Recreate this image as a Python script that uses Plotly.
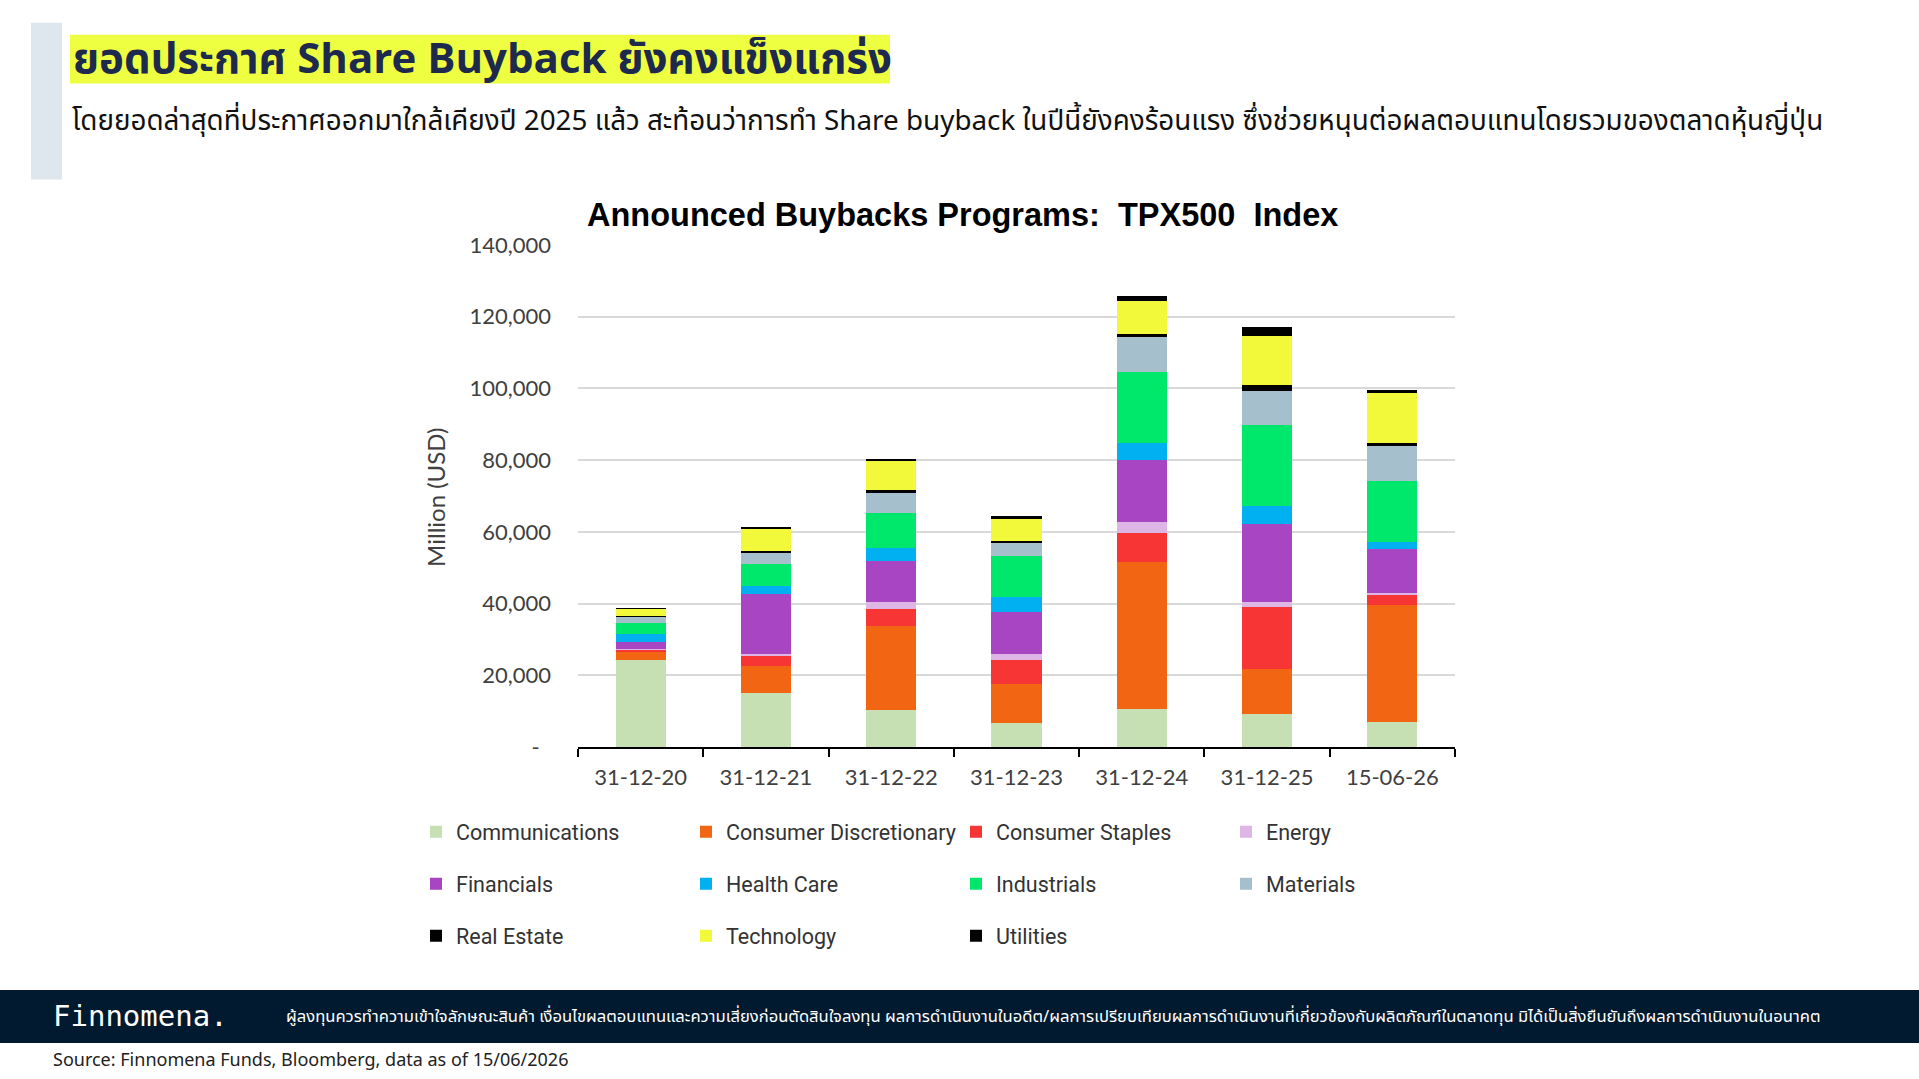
import plotly.graph_objects as go

# ---------------- data ----------------
dates = ["31-12-20", "31-12-21", "31-12-22", "31-12-23", "31-12-24", "31-12-25", "15-06-26"]

communications = [24150, 14970, 10240, 6730, 10630, 9240, 7010]
consumer_disc = [2330, 7700, 23560, 10850, 40980, 12410, 32550]
consumer_staples = [840, 2870, 4730, 6680, 7980, 17520, 2870]
energy = [150, 300, 1860, 1560, 3140, 1220, 570]
financials = [1880, 16860, 11490, 11790, 17250, 21790, 12220]
health_care = [2230, 2230, 3540, 4180, 4730, 5090, 1870]
industrials = [3060, 6030, 9900, 11480, 19750, 22530, 17130]
materials = [1670, 3340, 5400, 3540, 9830, 9570, 9660]
real_estate = [100, 300, 920, 600, 1020, 1670, 930]
technology = [2120, 6270, 8340, 6120, 9180, 13640, 13910]
utilities = [100, 300, 280, 900, 1300, 2590, 940]

sector_names = ["Communications", "Consumer Discretionary", "Consumer Staples", "Energy",
                "Financials", "Health Care", "Industrials", "Materials",
                "Real Estate", "Technology", "Utilities"]
sector_values = [communications, consumer_disc, consumer_staples, energy,
                 financials, health_care, industrials, materials,
                 real_estate, technology, utilities]
sector_colors = ["#c6e0b4", "#f26513", "#f83535", "#ddb6e6",
                 "#a845c2", "#00b0f0", "#00e86b", "#a6bfcc",
                 "#000000", "#f2f83a", "#000000"]

ytick_vals = [0, 20000, 40000, 60000, 80000, 100000, 120000, 140000]
ytick_text = ["-\u00a0\u00a0", "20,000", "40,000", "60,000", "80,000", "100,000", "120,000", "140,000"]

title_text = "ยอดประกาศ Share Buyback ยังคงแข็งแกร่ง"
subtitle_text = ("โดยยอดล่าสุดที่ประกาศออกมาใกล้เคียงปี 2025 แล้ว สะท้อนว่าการทำ Share buyback "
                 "ในปีนี้ยังคงร้อนแรง ซึ่งช่วยหนุนต่อผลตอบแทนโดยรวมของตลาดหุ้นญี่ปุ่น")
chart_title = "Announced Buybacks Programs:  TPX500  Index"
disclaimer = ("ผู้ลงทุนควรทำความเข้าใจลักษณะสินค้า เงื่อนไขผลตอบแทนและความเสี่ยงก่อนตัดสินใจลงทุน "
              "ผลการดำเนินงานในอดีต/ผลการเปรียบเทียบผลการดำเนินงานที่เกี่ยวข้องกับผลิตภัณฑ์ในตลาดทุน "
              "มิได้เป็นสิ่งยืนยันถึงผลการดำเนินงานในอนาคต")
source_text = "Source: Finnomena Funds, Bloomberg, data as of 15/06/2026"

# ---------------- layout geometry ----------------
FW, FH = 1919, 1079
L, R = 578, 1455
T, B = 244.7, 747.5
W, H = R - L, B - T


def fx(px):
    return (px - L) / W


def fy(py):
    return (B - py) / H


THAI = "Noto Sans Thai, Noto Sans Thai Looped, Noto Sans, sans-serif"

fig = go.Figure()
for name, vals, col in zip(sector_names, sector_values, sector_colors):
    fig.add_trace(go.Bar(
        x=dates, y=vals, name=name, legendgroup=name,
        marker=dict(color=col, line=dict(width=0)),
    ))

fig.update_layout(
    width=FW, height=FH,
    barmode="stack", bargap=0.6,
    plot_bgcolor="white", paper_bgcolor="white",
    margin=dict(l=L, r=FW - R, t=T, b=FH - B, autoexpand=False),
    font=dict(family="Lato, sans-serif", color="#404040"),
    showlegend=True,
    legend=dict(
        orientation="h", traceorder="grouped",
        x=fx(1496), xanchor="right", y=fy(812), yanchor="top",
        entrywidth=225, entrywidthmode="pixels", tracegroupgap=21,
        font=dict(family="Roboto, sans-serif", size=21.5, color="#333333"),
        bgcolor="rgba(0,0,0,0)",
    ),
)

fig.update_xaxes(
    type="category", showline=True, linecolor="black", linewidth=2,
    ticks="outside", tickson="boundaries", ticklen=8, tickwidth=2, tickcolor="black",
    tickfont=dict(family="Lato, sans-serif", size=22, color="#404040"),
    ticklabelstandoff=10, showgrid=False,
)
fig.update_yaxes(
    range=[0, 140000], tickvals=ytick_vals, ticktext=ytick_text,
    showgrid=True, gridcolor="#d9d9d9", gridwidth=2, zeroline=False,
    showline=False, ticks="",
    tickfont=dict(family="Lato, sans-serif", size=22, color="#404040"),
    ticklabelstandoff=26,
)

shapes = [
    dict(type="rect", xref="paper", yref="paper", x0=fx(31), x1=fx(62), y0=fy(179), y1=fy(22),
         fillcolor="#dfe7ee", line=dict(width=0), layer="below"),
    dict(type="rect", xref="paper", yref="paper", x0=fx(70), x1=fx(890), y0=fy(83), y1=fy(34),
         fillcolor="#eeff41", line=dict(width=0), layer="below"),
    dict(type="rect", xref="paper", yref="paper", x0=fx(0), x1=fx(FW), y0=fy(1044), y1=fy(991),
         fillcolor="#021a30", line=dict(width=0), layer="below"),
]
fig.update_layout(shapes=shapes)

annotations = [
    dict(text="<b>" + title_text + "</b>", x=fx(71), y=fy(59), xanchor="left", yanchor="middle",
         font=dict(family=THAI, size=42, color="#1d2a4d")),
    dict(text=subtitle_text, x=fx(70), y=fy(122), xanchor="left", yanchor="middle",
         font=dict(family=THAI, size=27.8, color="#111111")),
    dict(text="<b>" + chart_title + "</b>", x=fx(962), y=fy(215), xanchor="center", yanchor="middle",
         font=dict(family="Liberation Sans, Arial, sans-serif", size=32.5, color="#000000")),
    dict(text="Million (USD)", x=fx(436), y=fy(498), xanchor="center", yanchor="middle", textangle=-90,
         font=dict(family="Lato, sans-serif", size=24, color="#404040")),
    dict(text="Finnomena.", x=fx(51), y=fy(1017), xanchor="left", yanchor="middle",
         font=dict(family="DejaVu Sans Mono, monospace", size=29, color="#ffffff")),
    dict(text=disclaimer, x=fx(284), y=fy(1017), xanchor="left", yanchor="middle",
         font=dict(family=THAI, size=16.6, color="#ffffff")),
    dict(text=source_text, x=fx(51), y=fy(1061), xanchor="left", yanchor="middle",
         font=dict(family=THAI, size=18, color="#222222")),
]
for a in annotations:
    a.update(xref="paper", yref="paper", showarrow=False)
fig.update_layout(annotations=annotations)

fig.write_html("out.html", post_script="document.body.style.margin='0';")
